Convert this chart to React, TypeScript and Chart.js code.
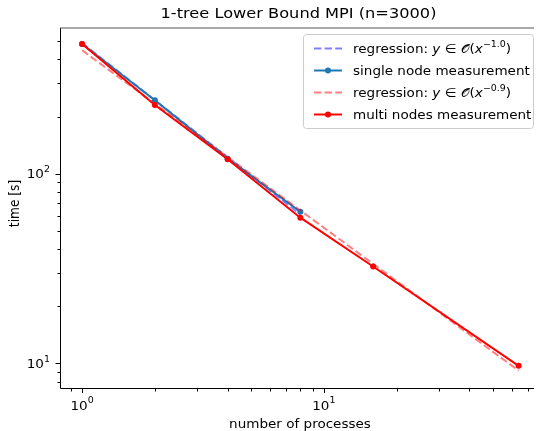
import React, { useEffect, useRef } from "react";
import { Chart, registerables } from "chart.js";

Chart.register(...registerables);

// ---- data ----
const procsSingle = [1, 2, 4, 8];
const timeSingle = [483, 244, 120, 63];
const procsMulti = [1, 2, 4, 8, 16, 64];
const timeMulti = [483, 230, 119, 58.6, 32.4, 9.7];
const regSingleX = [1, 8];
const regSingleY = [488, 61];
const regMultiX = [1, 64];
const regMultiY = [447, 9.15];

const xMajorTicks = [1, 10];
const xMajorExp = ["0", "1"];
const yMajorTicks = [10, 100];
const yMajorExp = ["1", "2"];

const titleText = "1-tree Lower Bound MPI (n=3000)";
const xLabel = "number of processes";
const yLabel = "time [s]";

type Part = { t: string; s: "n" | "i" | "sup" };
const legendEntries: { parts: Part[]; color: string; dash: boolean }[] = [
  {
    parts: [
      { t: "regression: ", s: "n" },
      { t: "y", s: "i" },
      { t: " \u2208 ", s: "n" },
      { t: "\uD835\uDCAA", s: "n" },
      { t: "(", s: "n" },
      { t: "x", s: "i" },
      { t: "\u22121.0", s: "sup" },
      { t: ")", s: "n" },
    ],
    color: "rgba(0,0,255,0.5)",
    dash: true,
  },
  { parts: [{ t: "single node measurement", s: "n" }], color: "#1f77b4", dash: false },
  {
    parts: [
      { t: "regression: ", s: "n" },
      { t: "y", s: "i" },
      { t: " \u2208 ", s: "n" },
      { t: "\uD835\uDCAA", s: "n" },
      { t: "(", s: "n" },
      { t: "x", s: "i" },
      { t: "\u22120.9", s: "sup" },
      { t: ")", s: "n" },
    ],
    color: "rgba(255,0,0,0.5)",
    dash: true,
  },
  { parts: [{ t: "multi nodes measurement", s: "n" }], color: "#ff0000", dash: false },
];

const FONT = '"DejaVu Sans", sans-serif';
const SX = 1.11; // horizontal text stretch
const LS = 12.2; // label font size
const TS = 14.6; // title font size
const DASH = [7.4, 3.2];
const LW = 2;

function fontFor(s: Part["s"], size: number) {
  if (s === "i") return `italic ${size}px ${FONT}`;
  if (s === "sup") return `${(size * 0.7).toFixed(2)}px ${FONT}`;
  return `${size}px ${FONT}`;
}

function measureParts(ctx: CanvasRenderingContext2D, parts: Part[], size: number) {
  let w = 0;
  for (const p of parts) {
    ctx.font = fontFor(p.s, size);
    w += ctx.measureText(p.t).width * SX;
  }
  return w;
}

function fillStretched(ctx: CanvasRenderingContext2D, t: string, x: number, y: number) {
  ctx.save();
  ctx.translate(x, y);
  ctx.scale(SX, 1);
  ctx.fillText(t, 0, 0);
  ctx.restore();
}

function drawParts(ctx: CanvasRenderingContext2D, parts: Part[], x: number, y: number, size: number) {
  let cx = x;
  ctx.textAlign = "left";
  for (const p of parts) {
    ctx.font = fontFor(p.s, size);
    const dy = p.s === "sup" ? -size * 0.5 : 0;
    fillStretched(ctx, p.t, cx, y + dy);
    cx += ctx.measureText(p.t).width * SX;
  }
}

function minorTicks(min: number, max: number) {
  const out: number[] = [];
  for (let e = -2; e <= 4; e++) {
    for (let m = 2; m <= 9; m++) {
      const v = m * Math.pow(10, e);
      if (v >= min && v <= max) out.push(v);
    }
  }
  return out;
}

const decorPlugin = {
  id: "decor",
  afterDraw(chart: any) {
    const { ctx, chartArea: ca, scales } = chart;
    const xs = scales.x;
    const ys = scales.y;
    ctx.save();
    ctx.fillStyle = "#000";
    ctx.strokeStyle = "#000";

    // spines
    ctx.lineWidth = 1;
    ctx.beginPath();
    ctx.moveTo(ca.left + 0.5, ca.top);
    ctx.lineTo(ca.left + 0.5, ca.bottom + 0.5);
    ctx.lineTo(ca.right, ca.bottom + 0.5);
    ctx.stroke();
    ctx.strokeStyle = "#555";
    ctx.beginPath();
    ctx.moveTo(ca.left, ca.top);
    ctx.lineTo(ca.right, ca.top);
    ctx.stroke();
    ctx.strokeStyle = "#000";

    // ticks
    const tick = (x1: number, y1: number, x2: number, y2: number) => {
      ctx.beginPath();
      ctx.moveTo(x1, y1);
      ctx.lineTo(x2, y2);
      ctx.stroke();
    };
    for (const v of xMajorTicks) {
      const px = Math.round(xs.getPixelForValue(v)) + 0.5;
      tick(px, ca.bottom + 1, px, ca.bottom + 5);
    }
    for (const v of minorTicks(xs.min, xs.max)) {
      const px = Math.round(xs.getPixelForValue(v)) + 0.5;
      tick(px, ca.bottom + 1, px, ca.bottom + 3.5);
    }
    for (const v of yMajorTicks) {
      const py = Math.round(ys.getPixelForValue(v)) + 0.5;
      tick(ca.left, py, ca.left - 4.5, py);
    }
    for (const v of minorTicks(ys.min, ys.max)) {
      const py = Math.round(ys.getPixelForValue(v)) + 0.5;
      tick(ca.left, py, ca.left - 2.5, py);
    }

    // tick labels
    ctx.textBaseline = "alphabetic";
    xMajorTicks.forEach((v, i) => {
      const parts: Part[] = [{ t: "10", s: "n" }, { t: xMajorExp[i], s: "sup" }];
      const w = measureParts(ctx, parts, LS);
      const px = xs.getPixelForValue(v);
      drawParts(ctx, parts, px - w / 2, 409.5, LS);
    });
    yMajorTicks.forEach((v, i) => {
      const parts: Part[] = [{ t: "10", s: "n" }, { t: yMajorExp[i], s: "sup" }];
      const w = measureParts(ctx, parts, LS);
      const py = ys.getPixelForValue(v);
      drawParts(ctx, parts, ca.left - 10 - w, py + 4.5, LS);
    });

    // axis labels
    ctx.font = `${LS}px ${FONT}`;
    ctx.textAlign = "center";
    ctx.save();
    ctx.translate((ca.left + ca.right) / 2 + 3, 428);
    ctx.scale(SX, 1);
    ctx.fillText(xLabel, 0, 0);
    ctx.restore();
    ctx.save();
    ctx.translate(19, 203.5);
    ctx.scale(SX, 1);
    ctx.rotate(-Math.PI / 2);
    ctx.fillText(yLabel, 0, 0);
    ctx.restore();

    // title
    ctx.font = `${TS}px ${FONT}`;
    ctx.save();
    ctx.translate((ca.left + ca.right) / 2 + 1.5, 18);
    ctx.scale(SX, 1);
    ctx.fillText(titleText, 0, 0);
    ctx.restore();

    // legend
    const bx = 303.5, by = 34.5, bw = 230, bh = 94, r = 3;
    ctx.beginPath();
    ctx.moveTo(bx + r, by);
    ctx.lineTo(bx + bw - r, by);
    ctx.quadraticCurveTo(bx + bw, by, bx + bw, by + r);
    ctx.lineTo(bx + bw, by + bh - r);
    ctx.quadraticCurveTo(bx + bw, by + bh, bx + bw - r, by + bh);
    ctx.lineTo(bx + r, by + bh);
    ctx.quadraticCurveTo(bx, by + bh, bx, by + bh - r);
    ctx.lineTo(bx, by + r);
    ctx.quadraticCurveTo(bx, by, bx + r, by);
    ctx.closePath();
    ctx.fillStyle = "rgba(255,255,255,0.8)";
    ctx.fill();
    ctx.strokeStyle = "#cccccc";
    ctx.lineWidth = 1;
    ctx.stroke();

    legendEntries.forEach((e, i) => {
      const y = 48.5 + i * 22;
      ctx.strokeStyle = e.color;
      ctx.lineWidth = LW;
      ctx.setLineDash(e.dash ? DASH : []);
      ctx.beginPath();
      ctx.moveTo(314, y);
      ctx.lineTo(342, y);
      ctx.stroke();
      ctx.setLineDash([]);
      if (!e.dash) {
        ctx.fillStyle = e.color;
        ctx.beginPath();
        ctx.arc(328, y, 3, 0, Math.PI * 2);
        ctx.fill();
      }
      ctx.fillStyle = "#000";
      drawParts(ctx, e.parts, 353, y + 4.5, LS);
    });

    ctx.restore();
  },
};

export default function App() {
  const ref = useRef<HTMLCanvasElement | null>(null);
  useEffect(() => {
    if (!ref.current) return;
    const pts = (xs: number[], ys: number[]) => xs.map((x, i) => ({ x, y: ys[i] }));
    const chart = new Chart(ref.current, {
      type: "line",
      data: {
        datasets: [
          {
            label: "regression single",
            data: pts(regSingleX, regSingleY),
            borderColor: "rgba(0,0,255,0.5)",
            borderDash: DASH,
            borderWidth: LW,
            pointRadius: 0,
            order: 4,
          },
          {
            label: "single node measurement",
            data: pts(procsSingle, timeSingle),
            borderColor: "#1f77b4",
            backgroundColor: "#1f77b4",
            borderWidth: LW,
            pointRadius: 3,
            pointBorderWidth: 0,
            order: 3,
          },
          {
            label: "regression multi",
            data: pts(regMultiX, regMultiY),
            borderColor: "rgba(255,0,0,0.5)",
            borderDash: DASH,
            borderWidth: LW,
            pointRadius: 0,
            order: 2,
          },
          {
            label: "multi nodes measurement",
            data: pts(procsMulti, timeMulti),
            borderColor: "#ff0000",
            backgroundColor: "#ff0000",
            borderWidth: LW,
            pointRadius: 3,
            pointBorderWidth: 0,
            order: 1,
          },
        ] as any,
      },
      options: {
        animation: false,
        responsive: false,
        maintainAspectRatio: false,
        devicePixelRatio: 1,
        layout: { padding: { top: 28, right: 0, bottom: 0, left: 0 } },
        plugins: {
          legend: { display: false },
          tooltip: { enabled: false },
          title: { display: false },
        },
        elements: { line: { tension: 0 } },
        scales: {
          x: {
            type: "logarithmic",
            min: 0.81,
            max: 74.1,
            ticks: { display: false },
            grid: { display: false },
            border: { display: false },
            afterFit: (s: any) => {
              s.height = 43;
            },
          },
          y: {
            type: "logarithmic",
            min: 7.41,
            max: 586,
            ticks: { display: false },
            grid: { display: false },
            border: { display: false },
            afterFit: (s: any) => {
              s.width = 60;
            },
          },
        },
      } as any,
      plugins: [decorPlugin],
    });
    return () => chart.destroy();
  }, []);
  return (
    <div style={{ position: "absolute", left: 0, top: 0, width: 538, height: 431, background: "#fff" }}>
      <canvas ref={ref} width={538} height={431} style={{ width: 538, height: 431, display: "block" }} />
    </div>
  );
}
